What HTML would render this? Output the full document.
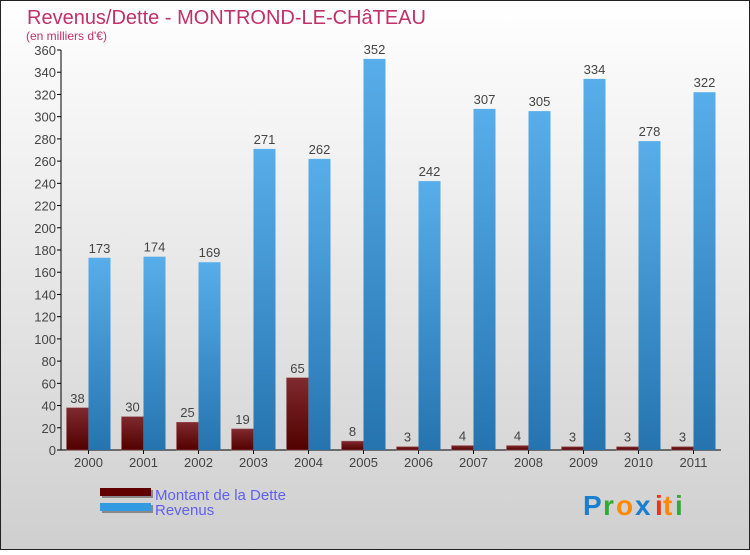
<!DOCTYPE html>
<html><head><meta charset="utf-8"><style>
body{margin:0;}
svg text{font-family:"Liberation Sans",sans-serif;}
</style></head><body>
<svg width="750" height="550" xmlns="http://www.w3.org/2000/svg" id="chart">
<defs>
<linearGradient id="bg" x1="0" y1="0" x2="0" y2="1"><stop offset="0" stop-color="#ffffff"/><stop offset="1" stop-color="#cfcfcf"/></linearGradient>
<linearGradient id="gd" x1="0" y1="0" x2="0" y2="1"><stop offset="0" stop-color="#7f2a2e"/><stop offset="1" stop-color="#520000"/></linearGradient>
<linearGradient id="gr" x1="0" y1="0" x2="0" y2="1"><stop offset="0" stop-color="#58aeea"/><stop offset="1" stop-color="#2574b0"/></linearGradient>
</defs>
<rect x="0.5" y="0.5" width="749" height="549" fill="url(#bg)" stroke="#222"/>
<text x="27" y="24" font-size="20" fill="#c0306a">Revenus/Dette - MONTROND-LE-CHâTEAU</text>
<text x="26" y="40" font-size="12" fill="#c0306a">(en milliers d'€)</text>
<g id="axes"></g>
<g id="bars"></g>
<g>
<rect x="102" y="490" width="51" height="8" fill="#888"/>
<rect x="100" y="488" width="51" height="8" fill="#600000"/>
<text x="155" y="500" font-size="15" fill="#6060ee">Montant de la Dette</text>
<rect x="102" y="505" width="51" height="8" fill="#888"/>
<rect x="100" y="503" width="51" height="8" fill="#3399e0"/>
<text x="155" y="515" font-size="15" fill="#6060ee">Revenus</text>
</g>
<g font-size="28" font-weight="bold">
<text x="583" y="515" fill="#1a7fd0">P</text><text x="603" y="515" fill="#33aa33">r</text><text x="616" y="515" fill="#ff8800">o</text><text x="635" y="515" fill="#1a7fd0">x</text><text x="655" y="515" fill="#ee3311">i</text><text x="663" y="515" fill="#ff8800">t</text><text x="675" y="515" fill="#33aa33">i</text>
</g>
</svg>
<script>
const categories=["2000","2001","2002","2003","2004","2005","2006","2007","2008","2009","2010","2011"];
const detteValues=[38,30,25,19,65,8,3,4,4,3,3,3];
const revenusValues=[173,174,169,271,262,352,242,307,305,334,278,322];
const yTicks=[0,20,40,60,80,100,120,140,160,180,200,220,240,260,280,300,320,340,360];
const NS="http://www.w3.org/2000/svg";
const x0=61,x1=721,yB=450,yT=50,yMax=360;
const band=(x1-x0)/categories.length;
const y=v=>yB-(v/yMax)*(yB-yT);
const xc=i=>x0+band*(i+0.5);
function mk(tag,attrs,parent,txt){const e=document.createElementNS(NS,tag);for(const k in attrs)e.setAttribute(k,attrs[k]);if(txt!==undefined)e.textContent=txt;parent.appendChild(e);return e;}
const ax=document.getElementById('axes'),bars=document.getElementById('bars');
yTicks.forEach(t=>{
  const l=mk('line',{x1:x0-4,x2:x0,y1:y(t),y2:y(t),stroke:'#000'},ax);
  
  
  const tx=mk('text',{x:x0-5,y:y(t)+5,'font-size':13,fill:'#444','text-anchor':'end'},ax,t);
  
  
});
categories.forEach((c,i)=>{
  const cx=xc(i);
  const d=detteValues[i],r=revenusValues[i];
  const bd=mk('rect',{x:cx-22,y:y(d),width:22,height:yB-y(d),fill:'url(#gd)',stroke:'#a06060','stroke-width':0.5},bars);
  
  
  const br=mk('rect',{x:cx,y:y(r),width:22,height:yB-y(r),fill:'url(#gr)'},bars);
  
  
  const ld=mk('text',{x:cx-11,y:y(d)-5,'font-size':13,fill:'#444','text-anchor':'middle'},bars,d);
  
  
  const lr=mk('text',{x:cx+11,y:y(r)-5,'font-size':13,fill:'#444','text-anchor':'middle'},bars,r);
  
  
  const tk=mk('line',{x1:cx,x2:cx,y1:yB,y2:yB+4,stroke:'#000'},ax);
  
  
  const xl=mk('text',{x:cx,y:yB+17,'font-size':13,fill:'#444','text-anchor':'middle'},ax,c);
  
  
});
const ya=mk('line',{x1:x0,x2:x0,y1:yT,y2:yB,stroke:'#000'},ax);


const xa=mk('line',{x1:x0,x2:x1,y1:yB,y2:yB,stroke:'#000'},ax);


</script>
</body></html>
